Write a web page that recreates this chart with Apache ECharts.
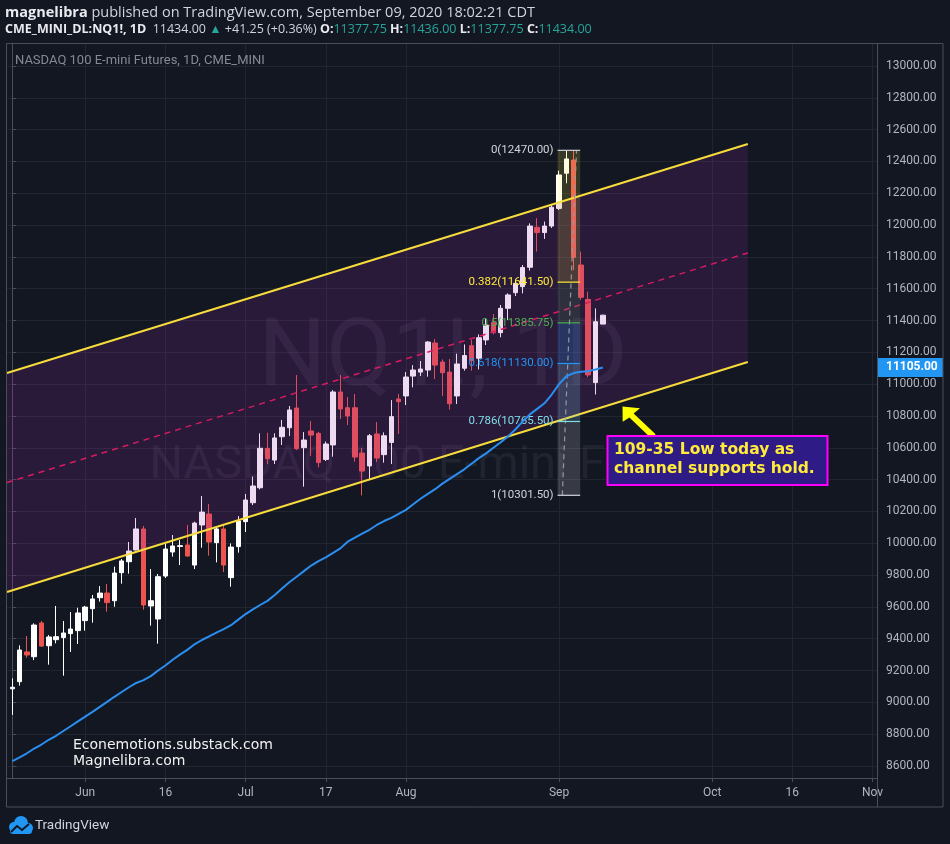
<!DOCTYPE html>
<html>
<head>
<meta charset="utf-8">
<title>NQ1! 1D</title>
<script src="https://cdn.jsdelivr.net/npm/echarts@6/dist/echarts.min.js"></script>
<style>
html, body { margin: 0; padding: 0; background: #131722; }
#chart { width: 950px; height: 844px; }
</style>
</head>
<body>
<div id="chart"></div>
<script>
// trading days, one per candle
var dates = [
  'May 15', 'May 18', 'May 19', 'May 20', 'May 21', 'May 22', 'May 26', 'May 27', 'May 28', 'May 29',
  'Jun 1', 'Jun 2', 'Jun 3', 'Jun 4', 'Jun 5', 'Jun 8', 'Jun 9', 'Jun 10', 'Jun 11', 'Jun 12',
  'Jun 15', 'Jun 16', 'Jun 17', 'Jun 18', 'Jun 19', 'Jun 22', 'Jun 23', 'Jun 24', 'Jun 25', 'Jun 26',
  'Jun 29', 'Jun 30', 'Jul 1', 'Jul 2', 'Jul 6', 'Jul 7', 'Jul 8', 'Jul 9', 'Jul 10', 'Jul 13',
  'Jul 14', 'Jul 15', 'Jul 16', 'Jul 17', 'Jul 20', 'Jul 21', 'Jul 22', 'Jul 23', 'Jul 24', 'Jul 27',
  'Jul 28', 'Jul 29', 'Jul 30', 'Jul 31', 'Aug 3', 'Aug 4', 'Aug 5', 'Aug 6', 'Aug 7', 'Aug 10',
  'Aug 11', 'Aug 12', 'Aug 13', 'Aug 14', 'Aug 17', 'Aug 18', 'Aug 19', 'Aug 20', 'Aug 21', 'Aug 24',
  'Aug 25', 'Aug 26', 'Aug 27', 'Aug 28', 'Aug 31', 'Sep 1', 'Sep 2', 'Sep 3', 'Sep 4', 'Sep 8',
  'Sep 9', 'Sep 10'
];

// [open, high, low, close]
var candles = [
  [9085, 9151, 8921, 9095], [9130, 9358, 9105, 9329], [9317, 9417, 9281, 9298], [9287, 9497, 9266, 9486],
  [9499, 9511, 9348, 9354], [9356, 9423, 9237, 9411], [9394, 9606, 9371, 9413], [9407, 9511, 9168, 9436],
  [9432, 9568, 9317, 9461], [9451, 9595, 9367, 9562], [9514, 9606, 9451, 9599], [9589, 9675, 9501, 9650],
  [9658, 9731, 9633, 9687], [9687, 9744, 9570, 9627], [9639, 9853, 9601, 9813], [9815, 9901, 9746, 9889],
  [9884, 10008, 9809, 9951], [9958, 10159, 9954, 10090], [10090, 10109, 9583, 9612], [9606, 9838, 9482, 9639],
  [9524, 9807, 9369, 9790], [9794, 9997, 9782, 9964], [9945, 10052, 9916, 9983], [9980, 10020, 9863, 9985],
  [9989, 10115, 9916, 9920], [9863, 10136, 9838, 10127], [10115, 10297, 9972, 10196], [10184, 10247, 9922, 10008],
  [10004, 10104, 9880, 10090], [10090, 10113, 9819, 9863], [9784, 9999, 9727, 9976], [9979, 10171, 9941, 10140],
  [10136, 10310, 10071, 10272], [10255, 10419, 10240, 10360], [10349, 10691, 10339, 10597], [10597, 10695, 10498, 10532],
  [10523, 10691, 10498, 10662], [10670, 10775, 10618, 10729], [10726, 10863, 10674, 10838], [10850, 11058, 10586, 10594],
  [10601, 10699, 10356, 10649], [10706, 10768, 10548, 10680], [10691, 10700, 10477, 10507], [10527, 10639, 10517, 10624],
  [10618, 10963, 10544, 10951], [10951, 11058, 10781, 10844], [10852, 10919, 10743, 10800], [10852, 10938, 10513, 10542],
  [10567, 10599, 10301, 10454], [10486, 10687, 10406, 10676], [10687, 10762, 10511, 10536], [10557, 10697, 10507, 10676],
  [10634, 10900, 10498, 10796], [10907, 10938, 10687, 10890], [10926, 11076, 10869, 11045], [11051, 11120, 10980, 11089],
  [11076, 11146, 11051, 11095], [11089, 11271, 11047, 11265], [11259, 11284, 11032, 11120], [11139, 11156, 10926, 11072],
  [11076, 11158, 10840, 10877], [10926, 11192, 10875, 11127], [11100, 11250, 11085, 11180], [11242, 11278, 11085, 11148],
  [11163, 11313, 11093, 11292], [11278, 11414, 11246, 11372], [11387, 11441, 11313, 11324], [11324, 11498, 11295, 11477],
  [11477, 11571, 11404, 11561], [11575, 11659, 11554, 11634], [11613, 11749, 11571, 11733], [11735, 12011, 11714, 11994],
  [11986, 12043, 11833, 11953], [11953, 12022, 11913, 11994], [11994, 12126, 11982, 12112], [12105, 12342, 12095, 12315],
  [12326, 12468, 12263, 12416], [12409, 12470, 11718, 11797], [11749, 11833, 11530, 11546], [11533, 11582, 11043, 11058],
  [11010, 11477, 10935, 11392.75], [11377.75, 11436, 11377.75, 11434]
];

// 50 day moving average
var ma50 = [
  8630, 8655, 8680, 8710, 8735, 8765, 8790, 8820, 8850, 8880,
  8910, 8940, 8972, 9003, 9035, 9065, 9095, 9122, 9140, 9165,
  9200, 9232, 9268, 9300, 9330, 9365, 9392, 9415, 9438, 9460,
  9485, 9520, 9555, 9585, 9612, 9638, 9675, 9715, 9755, 9790,
  9825, 9860, 9888, 9912, 9940, 9968, 10010, 10035, 10060, 10085,
  10115, 10140, 10160, 10185, 10210, 10245, 10280, 10310, 10340, 10375,
  10405, 10435, 10465, 10500, 10535, 10565, 10600, 10635, 10672, 10715,
  10765, 10810, 10845, 10880, 10935, 11000, 11050, 11070, 11078, 11082,
  11092, 11105
];
var maLast = 11105;

// time axis
var xMin = -0.73;
var xMax = 118.62;
var xTickIdx = [10, 21, 32, 43, 54, 75, 96, 107, 118];
var xTickText = ['Jun', '16', 'Jul', '17', 'Aug', 'Sep', 'Oct', '16', 'Nov'];

// price axis
var yMin = 8524.6;
var yMax = 13144.6;
var yTicks = [8600, 8800, 9000, 9200, 9400, 9600, 9800, 10000, 10200, 10400, 10600, 10800,
  11000, 11200, 11400, 11600, 11800, 12000, 12200, 12400, 12600, 12800, 13000];

// drawn channel
var channelX = [-0.73, 100.9];
var channelUpper = [11070, 12510];
var channelMid = [10382, 11825];
var channelLower = [9694, 11139];

// fib retracement
var fibRatio = ['0', '0.382', '0.5', '0.618', '0.786', '1'];
var fibPrice = [12470, 11641.5, 11385.75, 11130, 10765.5, 10301.5];
var fibColor = ['#d1d4dc', '#ffeb3b', '#4caf50', '#2196f3', '#80deea', '#d1d4dc'];
var fibFill = [null, 'rgba(255,235,59,0.16)', 'rgba(76,175,80,0.16)', 'rgba(33,150,243,0.22)',
  'rgba(128,222,234,0.2)', 'rgba(200,200,210,0.2)'];
var fibX = [74.8, 77.9];
var fibTrendX = [75.45, 77.4];

var chart = echarts.init(document.getElementById('chart'));

var candleData = candles.map(function(c, i) {
  return [i, c[0], c[3], c[2], c[1], dates[i]];
});
var maData = ma50.map(function(v, i) { return [i, v]; });

var gridColor = '#22252f';
var frameColor = '#4a4e5a';

var option = {
  backgroundColor: '#131722',
  animation: false,
  grid: { left: 7, right: 73, top: 43, bottom: 66 },
  xAxis: {
    type: 'value',
    min: xMin,
    max: xMax,
    axisLine: { show: true, lineStyle: { color: frameColor } },
    axisTick: { show: true, length: 4, customValues: xTickIdx, lineStyle: { color: frameColor } },
    axisLabel: {
      customValues: xTickIdx,
      color: '#b2b5be',
      fontFamily: 'Roboto',
      fontSize: 12,
      margin: 9,
      formatter: function(v) {
        var k = xTickIdx.indexOf(Math.round(v));
        return k < 0 ? '' : xTickText[k];
      }
    },
    splitLine: { show: true, lineStyle: { color: gridColor } }
  },
  yAxis: {
    type: 'value',
    position: 'right',
    min: yMin,
    max: yMax,
    axisLine: { show: true, lineStyle: { color: frameColor } },
    axisTick: { show: true, length: 4, customValues: yTicks, lineStyle: { color: frameColor } },
    axisLabel: {
      customValues: yTicks,
      color: '#b2b5be',
      fontFamily: 'Roboto',
      fontSize: 12,
      margin: 9,
      formatter: function(v) { return v.toFixed(2); }
    },
    splitLine: { show: true, lineStyle: { color: gridColor } }
  },
  graphic: [
    // header
    {
      type: 'text', x: 5, y: 13, z: 50,
      style: {
        text: '{b|magnelibra} published on TradingView.com, September 09, 2020 18:02:21 CDT',
        fill: '#d1d4dc', fontFamily: 'Open Sans', fontSize: 14.5, verticalAlign: 'middle',
        rich: { b: { fontWeight: 'bold', fill: '#e8eaf0', fontFamily: 'Open Sans', fontSize: 14.5 } }
      }
    },
    {
      type: 'text', x: 5, y: 29, z: 50,
      style: {
        text: '{b|CME_MINI_DL:NQ1!, 1D}  11434.00 {g|▲} +41.25 (+0.36%) {b|O:}{g|11377.75} {b|H:}{g|11436.00} {b|L:}{g|11377.75} {b|C:}{g|11434.00}',
        fill: '#d1d4dc', fontFamily: 'Open Sans', fontSize: 12.5, verticalAlign: 'middle',
        rich: {
          b: { fontWeight: 'bold', fill: '#e8eaf0', fontFamily: 'Open Sans', fontSize: 12.5 },
          g: { fill: '#26a69a', fontFamily: 'Open Sans', fontSize: 12.5 }
        }
      }
    },
    // pane title
    {
      type: 'text', x: 15, y: 61, z: 50,
      style: {
        text: 'NASDAQ 100 E-mini Futures, 1D, CME_MINI',
        fill: '#868993', fontFamily: 'Roboto', fontSize: 13, verticalAlign: 'middle'
      }
    },
    // symbol watermark
    {
      type: 'text', x: 443, y: 361, z: 1,
      style: {
        text: 'NQ1!, 1D', fill: 'rgba(120,123,134,0.14)', fontFamily: 'Roboto',
        fontSize: 95, align: 'center', verticalAlign: 'middle'
      }
    },
    {
      type: 'text', x: 443, y: 466, z: 1,
      style: {
        text: 'NASDAQ 100 E-mini Futures', fill: 'rgba(120,123,134,0.14)', fontFamily: 'Roboto',
        fontSize: 47, align: 'center', verticalAlign: 'middle'
      }
    },
    // author marks
    {
      type: 'text', x: 73, y: 745, z: 60,
      style: { text: 'Econemotions.substack.com', fill: '#f2f2f2', fontFamily: 'DejaVu Sans', fontSize: 14, verticalAlign: 'middle' }
    },
    {
      type: 'text', x: 73, y: 761, z: 60,
      style: { text: 'Magnelibra.com', fill: '#f2f2f2', fontFamily: 'DejaVu Sans', fontSize: 14, verticalAlign: 'middle' }
    },
    // note box and arrow
    {
      type: 'polygon', z: 60,
      shape: { points: [[622.5, 406.5], [640, 408.3], [633.6, 413.4], [655.6, 434.2], [651.4, 438.4], [629.4, 417.6], [622.7, 421.7]] },
      style: { fill: '#ffff00' }
    },
    {
      type: 'rect', z: 60,
      shape: { x: 607.5, y: 436, width: 220, height: 49 },
      style: { fill: '#2e1b86', stroke: '#ff00ff', lineWidth: 2 }
    },
    {
      type: 'text', x: 614, y: 450, z: 61,
      style: { text: '109-35 Low today as', fill: '#ffeb3b', fontFamily: 'DejaVu Sans', fontWeight: 'bold', fontSize: 15.5, verticalAlign: 'middle' }
    },
    {
      type: 'text', x: 614, y: 469, z: 61,
      style: { text: 'channel supports hold.', fill: '#ffeb3b', fontFamily: 'DejaVu Sans', fontWeight: 'bold', fontSize: 15.5, verticalAlign: 'middle' }
    },
    // frame
    {
      type: 'rect', z: 40, silent: true,
      shape: { x: 6.5, y: 43.5, width: 936.5, height: 763.5 },
      style: { fill: null, stroke: frameColor, lineWidth: 1 }
    },
    {
      type: 'line', z: 40,
      shape: { x1: 877.5, y1: 43, x2: 877.5, y2: 807 },
      style: { stroke: frameColor, lineWidth: 1 }
    },
    // TradingView logo
    {
      type: 'group', x: 7, y: 816, z: 50,
      children: [
        { type: 'circle', shape: { cx: 7, cy: 11, r: 5 }, style: { fill: '#2196f3' } },
        { type: 'circle', shape: { cx: 14, cy: 7, r: 7 }, style: { fill: '#2196f3' } },
        { type: 'circle', shape: { cx: 21, cy: 12, r: 5 }, style: { fill: '#2196f3' } },
        { type: 'rect', shape: { x: 3, y: 11, width: 22, height: 7, r: 3 }, style: { fill: '#2196f3' } },
        { type: 'polyline', shape: { points: [[4, 16], [10, 10], [15, 14], [22, 8]] }, style: { stroke: '#131722', lineWidth: 2, fill: null } },
        { type: 'text', x: 28, y: 10, style: { text: 'TradingView', fill: '#d1d4dc', fontFamily: 'Roboto', fontSize: 13.5, verticalAlign: 'middle' } }
      ]
    }
  ],
  series: [
    {
      name: 'NQ1!',
      type: 'candlestick',
      z: 2,
      data: candleData,
      encode: { x: 0, y: [1, 2, 3, 4] },
      barWidth: 5,
      itemStyle: {
        color: '#ffffff', color0: '#ef5350',
        borderColor: '#ffffff', borderColor0: '#ef5350', borderWidth: 1
      }
    },
    {
      name: 'channel',
      type: 'custom',
      z: 3,
      clip: false,
      data: [[channelX[0], channelUpper[0]]],
      renderItem: function(params, api) {
        var a = api.coord([channelX[0], channelUpper[0]]);
        var b = api.coord([channelX[1], channelUpper[1]]);
        var c = api.coord([channelX[1], channelLower[1]]);
        var d = api.coord([channelX[0], channelLower[0]]);
        var m0 = api.coord([channelX[0], channelMid[0]]);
        var m1 = api.coord([channelX[1], channelMid[1]]);
        return {
          type: 'group',
          children: [
            { type: 'polygon', shape: { points: [a, b, c, d] }, style: { fill: 'rgba(156,39,176,0.17)' } },
            { type: 'line', shape: { x1: m0[0], y1: m0[1], x2: m1[0], y2: m1[1] },
              style: { stroke: '#d81b60', lineWidth: 1.5, lineDash: [6, 5] } },
            { type: 'line', shape: { x1: a[0], y1: a[1], x2: b[0], y2: b[1] },
              style: { stroke: '#f7dc3c', lineWidth: 2 } },
            { type: 'line', shape: { x1: d[0], y1: d[1], x2: c[0], y2: c[1] },
              style: { stroke: '#f7dc3c', lineWidth: 2 } }
          ]
        };
      }
    },
    {
      name: 'fib',
      type: 'custom',
      z: 5,
      clip: false,
      data: fibPrice.map(function(p, i) { return [fibX[0], p]; }),
      renderItem: function(params, api) {
        var i = params.dataIndex;
        var p = fibPrice[i];
        var l = api.coord([fibX[0], p]);
        var r = api.coord([fibX[1], p]);
        var kids = [];
        if (i > 0) {
          var prev = api.coord([fibX[0], fibPrice[i - 1]]);
          kids.push({ type: 'rect', shape: { x: l[0], y: prev[1], width: r[0] - l[0], height: l[1] - prev[1] },
            style: { fill: fibFill[i] } });
        }
        if (i === 0) {
          var t0 = api.coord([fibTrendX[0], fibPrice[fibPrice.length - 1]]);
          var t1 = api.coord([fibTrendX[1], fibPrice[0]]);
          kids.push({ type: 'line', shape: { x1: t0[0], y1: t0[1], x2: t1[0], y2: t1[1] },
            style: { stroke: '#9598a1', lineWidth: 1.2, lineDash: [5, 4] }, z2: 5 });
        }
        kids.push({ type: 'line', shape: { x1: l[0], y1: l[1], x2: r[0], y2: r[1] },
          style: { stroke: fibColor[i], lineWidth: 1.2 }, z2: 6 });
        kids.push({ type: 'text', x: l[0] - 4, y: l[1], z2: 7,
          style: { text: fibRatio[i] + '(' + p.toFixed(2) + ')', fill: fibColor[i], fontFamily: 'Roboto',
            fontSize: 11.5, align: 'right', verticalAlign: 'middle' } });
        return { type: 'group', children: kids };
      }
    },
    {
      name: 'MA 50',
      type: 'line',
      z: 6,
      data: maData,
      symbol: 'none',
      lineStyle: { color: '#2a8ff0', width: 2 }
    },
    {
      name: 'last',
      type: 'custom',
      z: 7,
      clip: false,
      data: [[xMax, maLast]],
      renderItem: function(params, api) {
        var p = api.coord([xMax, maLast]);
        return {
          type: 'group',
          children: [
            { type: 'rect', shape: { x: p[0], y: p[1] - 9.5, width: 66, height: 19 }, style: { fill: '#2196f3' } },
            { type: 'text', x: p[0] + 9, y: p[1], style: { text: maLast.toFixed(2), fill: '#ffffff',
              fontFamily: 'Roboto', fontWeight: 'bold', fontSize: 12, verticalAlign: 'middle' } }
          ]
        };
      }
    }
  ]
};

chart.setOption(option);
</script>
</body>
</html>
